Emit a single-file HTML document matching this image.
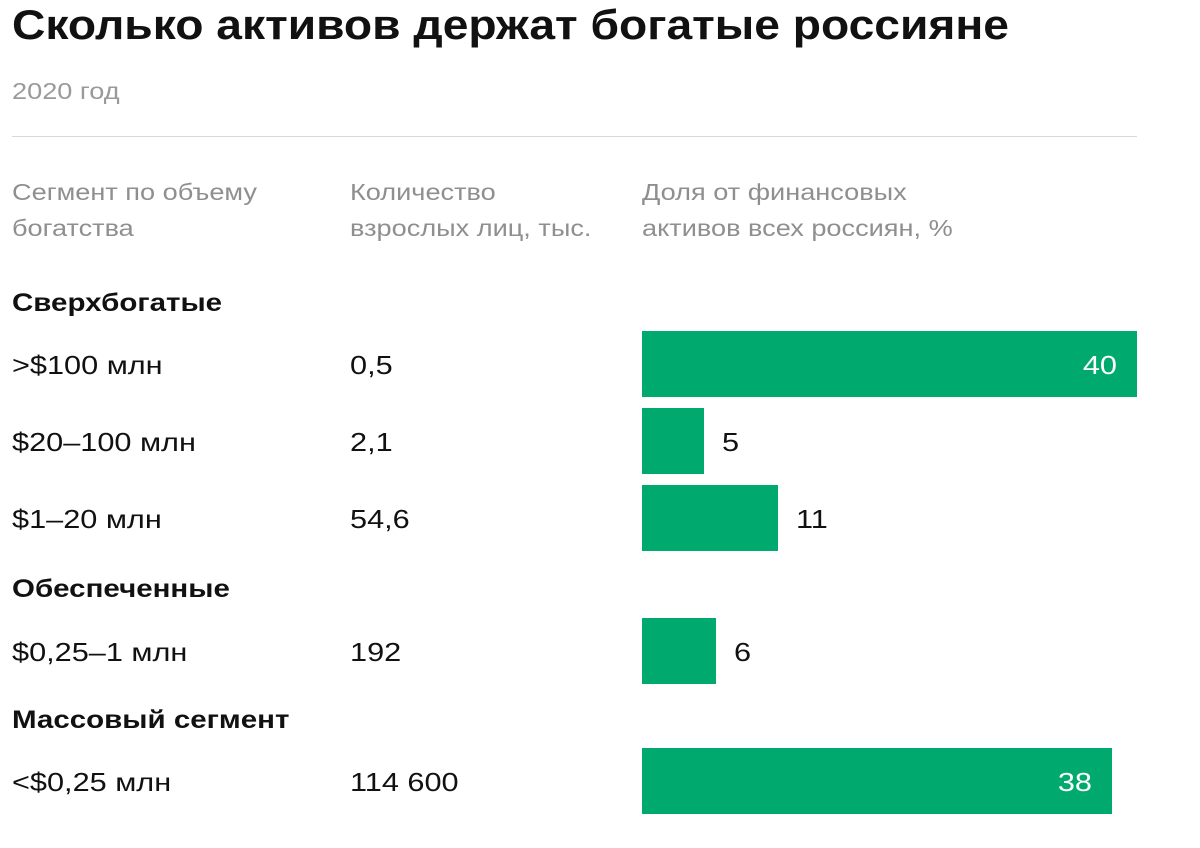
<!DOCTYPE html>
<html><head><meta charset="utf-8"><style>
body{margin:0;width:1200px;height:848px;background:#fff;font-family:"Liberation Sans","Noto Sans CJK SC",sans-serif;position:relative;overflow:hidden}
.t{position:absolute;white-space:nowrap;transform-origin:left center;transform:scaleX(1.18)}
.title{left:12px;top:1px;font-size:42px;font-weight:bold;color:#111;transform:scaleX(1.10)}
.sub{left:12px;top:78px;font-size:23px;color:#9a9a9a}
.hdr{font-size:23px;color:#8f8f8f;line-height:36px}
.grp{font-size:25px;font-weight:bold;color:#111}
.cell{font-size:26px;color:#111}
</style></head><body>
<div class="t title">Сколько активов держат богатые россияне</div>
<div class="t sub">2020 год</div>
<div style="position:absolute;left:12px;top:136px;width:1125px;height:1px;background:#d8d8d8"></div>
<div class="t hdr" style="left:12px;top:174px">Сегмент по объему<br>богатства</div>
<div class="t hdr" style="left:350px;top:174px">Количество<br>взрослых лиц, тыс.</div>
<div class="t hdr" style="left:642px;top:174px">Доля от финансовых<br>активов всех россиян, %</div>
<div id="rows"></div>
<script>
const groups=["Сверхбогатые","Обеспеченные","Массовый сегмент"];
const groupTops=[289,575,706];
const categories=[">$100 млн","$20–100 млн","$1–20 млн","$0,25–1 млн","<$0,25 млн"];
const counts=["0,5","2,1","54,6","192","114 600"];
const shares=[40,5,11,6,38];
const rowTops=[331,408,485,618,748];
const root=document.getElementById('rows');
const x0=642,maxW=495,maxV=40;
const xs=v=>v/maxV*maxW;
groups.forEach((g,i)=>{
 const d=document.createElement('div');d.className='t grp';d.style.left='12px';d.style.top=groupTops[i]+'px';d.textContent=g;
 
 
 root.appendChild(d);
});
categories.forEach((c,i)=>{
 const top=rowTops[i];
 const a=document.createElement('div');a.className='t cell';a.style.left='12px';a.style.top=(top+19)+'px';a.textContent=c;
 
 
 root.appendChild(a);
 const b=document.createElement('div');b.className='t cell';b.style.left='350px';b.style.top=(top+19)+'px';b.textContent=counts[i];
 
 
 root.appendChild(b);
 const w=xs(shares[i]);
 const bar=document.createElement('div');bar.style.cssText=`position:absolute;left:${x0}px;top:${top}px;width:${w}px;height:66px;background:#00a96e`;
 
 
 root.appendChild(bar);
 const l=document.createElement('div');l.className='t cell';l.textContent=shares[i];l.style.top=(top+19)+'px';
 if(w>150){l.style.color='#fff';l.style.left=(x0+w-20)+'px';l.style.transformOrigin='right center';l.style.transform='translateX(-100%) scaleX(1.18)';}
 else{l.style.left=(x0+w+18)+'px';}
 
 
 root.appendChild(l);
});
</script>
</body></html>
